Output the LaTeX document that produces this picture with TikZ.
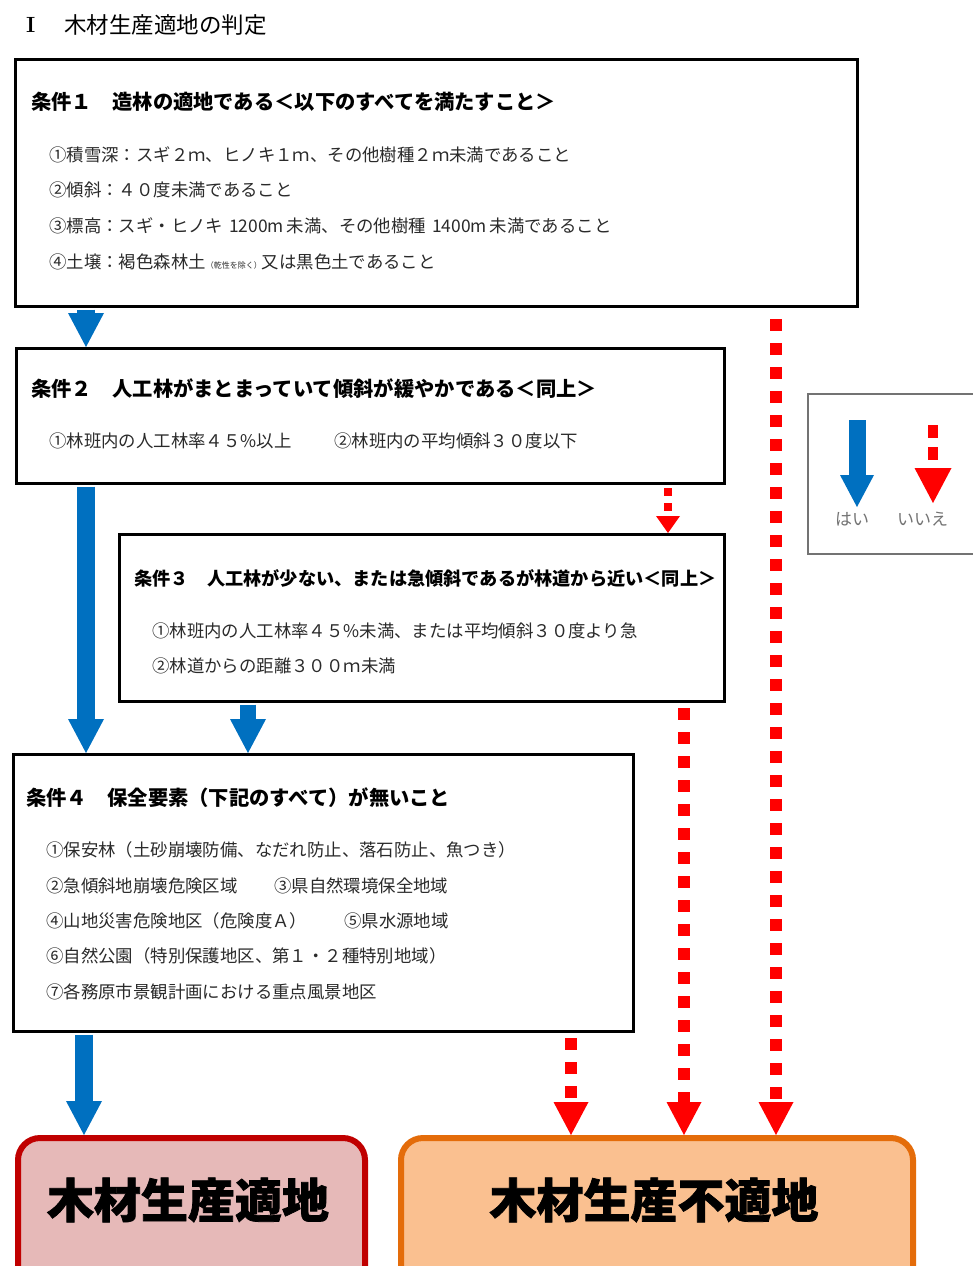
\documentclass[tikz,border=0pt]{standalone}
\usepackage{fontspec}
\newfontfamily\jp{Noto Sans CJK JP}
\newfontfamily\jpheavy{Noto Sans CJK JP}[BoldFeatures={FakeBold=1.6}]
\usetikzlibrary{arrows.meta,calc}
\definecolor{yesblue}{HTML}{0070C0}
\definecolor{nored}{HTML}{FF0000}
\definecolor{goodfill}{HTML}{E6B9B8}
\definecolor{goodline}{HTML}{C00000}
\definecolor{badfill}{HTML}{FAC090}
\definecolor{badline}{HTML}{E46C0A}
\definecolor{bodytext}{HTML}{2A2A2A}
\tikzset{
  condbox/.style={draw=black, line width=3pt, fill=white, anchor=north west, inner sep=0pt},
  headtxt/.style={anchor=west, inner sep=0pt, font=\jp\bfseries\fontsize{20.3}{24}\selectfont},
  bodytxt/.style={anchor=west, inner sep=0pt, text=bodytext, font=\jp\fontsize{17.4}{21}\selectfont},
  yesarrow/.style={draw=yesblue, line width=18pt, -{Triangle[length=34pt,width=36pt,line width=0pt]}},
  noarrow/.style={draw=nored, line width=12pt, dash pattern=on 12pt off 12pt, -{Triangle[length=33pt,width=35pt,line width=0pt]}},
  smallno/.style={draw=nored, line width=8pt, dash pattern=on 8pt off 7pt, -{Triangle[length=17pt,width=24pt,line width=0pt]}},
  result/.style={line width=6pt, rounded corners=22pt, anchor=north west, inner sep=0pt},
  resulttxt/.style={inner sep=0pt, font=\jpheavy\bfseries\fontsize{47}{50}\selectfont}
}
\begin{document}
\begin{tikzpicture}[x=1pt, y=-1pt]
\useasboundingbox (0,0) rectangle (973,1266);
\clip (0,0) rectangle (973,1266);
\fill[white] (0,0) rectangle (973,1266);

% title
\node[anchor=west, inner sep=0pt, font=\bfseries\fontsize{22}{24}\selectfont] (tI) at (26,25) {I};
\node[anchor=west, inner sep=0pt, font=\jp\fontsize{22.5}{26}\selectfont] (title) at (64,25) {木材生産適地の判定};

% condition boxes
\node[condbox, minimum width=842pt, minimum height=247pt] (b1) at (14,58) {};
\node[condbox, minimum width=708pt, minimum height=135pt] (b2) at (15,347) {};
\node[condbox, minimum width=605pt, minimum height=167pt] (b3) at (118,533) {};
\node[condbox, minimum width=620pt, minimum height=277pt] (b4) at (12,753) {};

% result boxes
\node[result, draw=goodline, fill=goodfill, minimum width=347pt, minimum height=170pt] (good) at (15,1135) {};
\node[result, draw=badline, fill=badfill, minimum width=512pt, minimum height=170pt] (bad) at (398,1135) {};
\node[resulttxt] (goodt) at (188,1200) {木材生産適地};
\node[resulttxt] (badt) at (654,1200) {木材生産不適地};

% box 1 texts
\node[headtxt] (h1) at (31,102) {条件１　造林の適地である＜以下のすべてを満たすこと＞};
\node[bodytxt] (l11) at (49,155) {①積雪深：スギ２ｍ、ヒノキ１ｍ、その他樹種２ｍ未満であること};
\node[bodytxt] (l12) at (49,190) {②傾斜：４０度未満であること};
\node[bodytxt] (l13) at (49,226) {③標高：スギ・ヒノキ\hspace{6pt}1200m\hspace{3pt}未満、その他樹種\hspace{6pt}1400m\hspace{3pt}未満であること};
\node[bodytxt] (l14) at (49,262) {④土壌：褐色森林土{\fontsize{8}{9}\selectfont（乾性を除く）}又は黒色土であること};

% box 2 texts
\node[headtxt] (h2) at (31,389) {条件２　人工林がまとまっていて傾斜が緩やかである＜同上＞};
\node[bodytxt] (l21) at (49,441) {①林班内の人工林率４５\%以上};
\node[bodytxt] (l22) at (334,441) {②林班内の平均傾斜３０度以下};

% box 3 texts
\node[headtxt, font=\jp\bfseries\fontsize{18.2}{22}\selectfont] (h3) at (134,578) {条件３　人工林が少ない、または急傾斜であるが林道から近い＜同上＞};
\node[bodytxt] (l31) at (152,631) {①林班内の人工林率４５\%未満、または平均傾斜３０度より急};
\node[bodytxt] (l32) at (152,666) {②林道からの距離３００ｍ未満};

% box 4 texts
\node[headtxt] (h4) at (26,798) {条件４　保全要素（下記のすべて）が無いこと};
\node[bodytxt] (l41) at (46,850) {①保安林（土砂崩壊防備、なだれ防止、落石防止、魚つき）};
\node[bodytxt] (l42) at (46,886) {②急傾斜地崩壊危険区域};
\node[bodytxt] (l43) at (274,886) {③県自然環境保全地域};
\node[bodytxt] (l44) at (46,921) {④山地災害危険地区（危険度Ａ）};
\node[bodytxt] (l45) at (344,921) {⑤県水源地域};
\node[bodytxt] (l46) at (46,956) {⑥自然公園（特別保護地区、第１・２種特別地域）};
\node[bodytxt] (l47) at (46,992) {⑦各務原市景観計画における重点風景地区};

% yes arrows
\draw[yesarrow, shorten <=1.5pt] (b1.south -| 86,0) -- (b2.north -| 86,0);
\draw[yesarrow, shorten <=1.5pt] (b2.south -| 86,0) -- (b4.north -| 86,0);
\draw[yesarrow, line width=16pt, shorten <=1.5pt] (b3.south -| 248,0) -- (b4.north -| 248,0);
\draw[yesarrow, shorten <=1.5pt] (b4.south -| 84,0) -- (good.north -| 84,0);

% no arrows
\draw[smallno, shorten <=3pt] (b2.south -| 668,0) -- (b3.north -| 668,0);
\draw[noarrow, shorten <=11pt] (b1.south -| 776,0) -- (bad.north -| 776,0);
\draw[noarrow, shorten <=5pt] (b3.south -| 684,0) -- (bad.north -| 684,0);
\draw[noarrow, shorten <=5pt] (b4.south -| 571,0) -- (bad.north -| 571,0);

% legend
\node[draw=black!55, line width=1.5pt, fill=white, anchor=north west, inner sep=0pt, minimum width=200pt, minimum height=160pt] (leg) at (807,393) {};
\draw[yesarrow, line width=17pt, -{Triangle[length=32pt,width=34pt,line width=0pt]}] (857,420) -- (857,507);
\draw[noarrow, line width=10pt, dash pattern=on 13pt off 9pt, -{Triangle[length=35pt,width=37pt,line width=0pt]}] (933,425) -- (933,503);
\node[anchor=west, inner sep=0pt, text=black!55, font=\jp\fontsize{17}{19}\selectfont] (yes) at (835,519) {はい};
\node[anchor=west, inner sep=0pt, text=black!55, font=\jp\fontsize{17}{19}\selectfont] (no) at (897,519) {いいえ};
\end{tikzpicture}
\end{document}
